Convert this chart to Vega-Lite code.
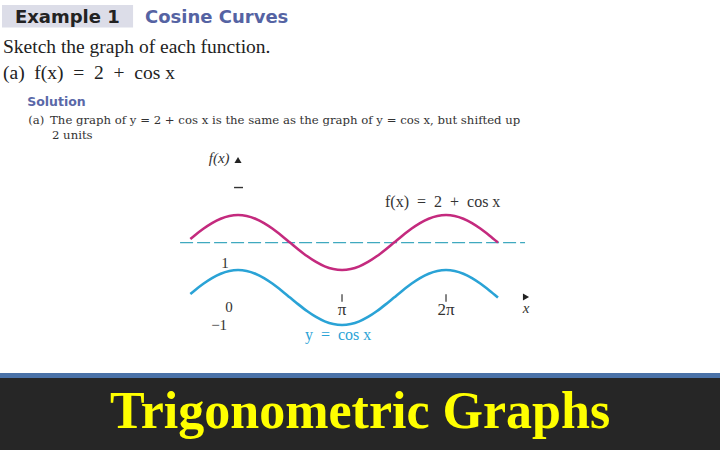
{
  "$schema": "https://vega.github.io/schema/vega-lite/v6.json",
  "width": 720,
  "height": 450,
  "autosize": {"type": "fit", "contains": "padding"},
  "padding": 0,
  "background": "white",
  "config": {"view": {"stroke": null}, "axis": {"disable": true}},
  "layer": [
    {
      "data": {"values": [{"part": "example box"}]},
      "mark": {"type": "rect", "color": "#dcdde8"},
      "encoding": {
        "x": {"datum": -7.13, "type": "quantitative", "scale": {"domain": [-7.19, 14.56], "nice": false, "zero": false}},
        "x2": {"datum": -3.17},
        "y": {"datum": 10.64, "type": "quantitative", "scale": {"domain": [-5.545, 10.82], "nice": false, "zero": false}},
        "y2": {"datum": 9.82}
      }
    },
    {
      "data": {"values": [{"part": "banner stripe"}]},
      "mark": {"type": "rect", "color": "#4a72a8"},
      "encoding": {
        "x": {"datum": -7.19, "type": "quantitative"},
        "x2": {"datum": 14.56},
        "y": {"datum": -2.745, "type": "quantitative"},
        "y2": {"datum": -2.927}
      }
    },
    {
      "data": {"values": [{"part": "banner"}]},
      "mark": {"type": "rect", "color": "#262626"},
      "encoding": {
        "x": {"datum": -7.19, "type": "quantitative"},
        "x2": {"datum": 14.56},
        "y": {"datum": -2.927, "type": "quantitative"},
        "y2": {"datum": -5.545}
      }
    },
    {
      "data": {"values": [{"x": -1.75, "y": 2}, {"x": 8.67, "y": 2}]},
      "mark": {"type": "line", "color": "#3fa9bf", "strokeWidth": 1.3, "strokeDash": [13, 4]},
      "encoding": {
        "x": {"field": "x", "type": "quantitative"},
        "y": {"field": "y", "type": "quantitative"}
      }
    },
    {
      "data": {"values": [
        {"x": -1.44, "cosx": 0.1304, "fx": 2.1304},
        {"x": -1.309, "cosx": 0.2588, "fx": 2.2588},
        {"x": -1.0472, "cosx": 0.5, "fx": 2.5},
        {"x": -0.7854, "cosx": 0.7071, "fx": 2.7071},
        {"x": -0.5236, "cosx": 0.866, "fx": 2.866},
        {"x": -0.2618, "cosx": 0.9659, "fx": 2.9659},
        {"x": 0, "cosx": 1, "fx": 3},
        {"x": 0.2618, "cosx": 0.9659, "fx": 2.9659},
        {"x": 0.5236, "cosx": 0.866, "fx": 2.866},
        {"x": 0.7854, "cosx": 0.7071, "fx": 2.7071},
        {"x": 1.0472, "cosx": 0.5, "fx": 2.5},
        {"x": 1.309, "cosx": 0.2588, "fx": 2.2588},
        {"x": 1.5708, "cosx": 0, "fx": 2},
        {"x": 1.8326, "cosx": -0.2588, "fx": 1.7412},
        {"x": 2.0944, "cosx": -0.5, "fx": 1.5},
        {"x": 2.3562, "cosx": -0.7071, "fx": 1.2929},
        {"x": 2.618, "cosx": -0.866, "fx": 1.134},
        {"x": 2.8798, "cosx": -0.9659, "fx": 1.0341},
        {"x": 3.1416, "cosx": -1, "fx": 1},
        {"x": 3.4034, "cosx": -0.9659, "fx": 1.0341},
        {"x": 3.6652, "cosx": -0.866, "fx": 1.134},
        {"x": 3.927, "cosx": -0.7071, "fx": 1.2929},
        {"x": 4.1888, "cosx": -0.5, "fx": 1.5},
        {"x": 4.4506, "cosx": -0.2588, "fx": 1.7412},
        {"x": 4.7124, "cosx": 0, "fx": 2},
        {"x": 4.9742, "cosx": 0.2588, "fx": 2.2588},
        {"x": 5.236, "cosx": 0.5, "fx": 2.5},
        {"x": 5.4978, "cosx": 0.7071, "fx": 2.7071},
        {"x": 5.7596, "cosx": 0.866, "fx": 2.866},
        {"x": 6.0214, "cosx": 0.9659, "fx": 2.9659},
        {"x": 6.2832, "cosx": 1, "fx": 3},
        {"x": 6.545, "cosx": 0.9659, "fx": 2.9659},
        {"x": 6.8068, "cosx": 0.866, "fx": 2.866},
        {"x": 7.0686, "cosx": 0.7071, "fx": 2.7071},
        {"x": 7.3304, "cosx": 0.5, "fx": 2.5},
        {"x": 7.5922, "cosx": 0.2588, "fx": 2.2588},
        {"x": 7.854, "cosx": 0, "fx": 2}
      ]},
      "transform": [{"fold": ["fx", "cosx"], "as": ["curve", "y"]}],
      "mark": {"type": "line", "strokeWidth": 2.6, "interpolate": "monotone"},
      "encoding": {
        "x": {"field": "x", "type": "quantitative"},
        "y": {"field": "y", "type": "quantitative"},
        "color": {"field": "curve", "type": "nominal", "scale": {"domain": ["fx", "cosx"], "range": ["#c42a7e", "#2aa3d6"]}, "legend": null}
      }
    },
    {
      "data": {"values": [{"x": 3.1416}, {"x": 6.2832}]},
      "mark": {"type": "rule", "color": "#333333", "strokeWidth": 1.2},
      "encoding": {
        "x": {"field": "x", "type": "quantitative"},
        "y": {"datum": -0.15, "type": "quantitative"},
        "y2": {"datum": 0.12}
      }
    },
    {
      "data": {"values": [{"y": 4}]},
      "mark": {"type": "rule", "color": "#333333", "strokeWidth": 1.4},
      "encoding": {
        "x": {"datum": -0.12, "type": "quantitative"},
        "x2": {"datum": 0.15},
        "y": {"field": "y", "type": "quantitative"}
      }
    },
    {
      "data": {"values": [{"axis": "y", "x": 0, "y": 5.0}]},
      "mark": {"type": "point", "shape": "triangle-up", "filled": true, "size": 50, "color": "#222222", "opacity": 1},
      "encoding": {
        "x": {"field": "x", "type": "quantitative"},
        "y": {"field": "y", "type": "quantitative"}
      }
    },
    {
      "data": {"values": [{"axis": "x", "x": 8.7, "y": 0.02}]},
      "mark": {"type": "point", "shape": "triangle-right", "filled": true, "size": 50, "color": "#222222", "opacity": 1},
      "encoding": {
        "x": {"field": "x", "type": "quantitative"},
        "y": {"field": "y", "type": "quantitative"}
      }
    },
    {
      "data": {"values": [
        {"label": "1", "x": -0.39, "y": 1.07},
        {"label": "0", "x": -0.27, "y": -0.53},
        {"label": "−1", "x": -0.57, "y": -1.18}
      ]},
      "mark": {"type": "text", "font": "Liberation Serif", "fontSize": 15, "color": "#333333", "align": "center", "baseline": "alphabetic"},
      "encoding": {
        "x": {"field": "x", "type": "quantitative"},
        "y": {"field": "y", "type": "quantitative"},
        "text": {"field": "label"}
      }
    },
    {
      "data": {"values": [
        {"label": "π", "x": 3.1416, "y": -0.64},
        {"label": "2π", "x": 6.2832, "y": -0.64}
      ]},
      "mark": {"type": "text", "font": "Liberation Serif", "fontSize": 17, "color": "#333333", "align": "center", "baseline": "alphabetic"},
      "encoding": {
        "x": {"field": "x", "type": "quantitative"},
        "y": {"field": "y", "type": "quantitative"},
        "text": {"field": "label"}
      }
    },
    {
      "data": {"values": [
        {"label": "x", "x": 8.7, "y": -0.56},
        {"label": "f(x)", "x": -0.57, "y": 4.89}
      ]},
      "mark": {"type": "text", "font": "Liberation Serif", "fontStyle": "italic", "fontSize": 15, "color": "#333333", "align": "center", "baseline": "alphabetic"},
      "encoding": {
        "x": {"field": "x", "type": "quantitative"},
        "y": {"field": "y", "type": "quantitative"},
        "text": {"field": "label"}
      }
    },
    {
      "data": {"values": [{"label": "f(x)\u2002=\u20022\u2002+\u2002cos x", "x": 4.44, "y": 3.29}]},
      "mark": {"type": "text", "font": "Liberation Serif", "fontSize": 16, "color": "#333333", "align": "left", "baseline": "alphabetic"},
      "encoding": {
        "x": {"field": "x", "type": "quantitative"},
        "y": {"field": "y", "type": "quantitative"},
        "text": {"field": "label"}
      }
    },
    {
      "data": {"values": [{"label": "y\u2002=\u2002cos x", "x": 2.02, "y": -1.55}]},
      "mark": {"type": "text", "font": "Liberation Serif", "fontSize": 16, "color": "#2aa3d6", "align": "left", "baseline": "alphabetic"},
      "encoding": {
        "x": {"field": "x", "type": "quantitative"},
        "y": {"field": "y", "type": "quantitative"},
        "text": {"field": "label"}
      }
    },
    {
      "data": {"values": [
        {"text": "Example 1", "x": -6.74, "y": 10.0}
      ]},
      "mark": {"type": "text", "font": "DejaVu Sans", "fontWeight": "bold", "fontSize": 18, "color": "#222222", "align": "left", "baseline": "alphabetic"},
      "encoding": {
        "x": {"field": "x", "type": "quantitative"},
        "y": {"field": "y", "type": "quantitative"},
        "text": {"field": "text"}
      }
    },
    {
      "data": {"values": [
        {"text": "Cosine Curves", "x": -2.81, "y": 10.0}
      ]},
      "mark": {"type": "text", "font": "DejaVu Sans", "fontWeight": "bold", "fontSize": 18, "color": "#5563a3", "align": "left", "baseline": "alphabetic"},
      "encoding": {
        "x": {"field": "x", "type": "quantitative"},
        "y": {"field": "y", "type": "quantitative"},
        "text": {"field": "text"}
      }
    },
    {
      "data": {"values": [
        {"text": "Sketch the graph of each function.", "x": -7.1, "y": 8.88},
        {"text": "(a)\u2002f(x)\u2002=\u20022\u2002+\u2002cos x", "x": -7.1, "y": 7.945}
      ]},
      "mark": {"type": "text", "font": "Liberation Serif", "fontSize": 19.5, "color": "#222222", "align": "left", "baseline": "alphabetic"},
      "encoding": {
        "x": {"field": "x", "type": "quantitative"},
        "y": {"field": "y", "type": "quantitative"},
        "text": {"field": "text"}
      }
    },
    {
      "data": {"values": [
        {"text": "Solution", "x": -6.37, "y": 6.96}
      ]},
      "mark": {"type": "text", "font": "DejaVu Sans", "fontWeight": "bold", "fontSize": 12.5, "color": "#5a68a8", "align": "left", "baseline": "alphabetic"},
      "encoding": {
        "x": {"field": "x", "type": "quantitative"},
        "y": {"field": "y", "type": "quantitative"},
        "text": {"field": "text"}
      }
    },
    {
      "data": {"values": [
        {"text": "(a)\u2002The graph of y = 2 + cos x is the same as the graph of y = cos x, but shifted up", "x": -6.34, "y": 6.31},
        {"text": "2 units", "x": -5.62, "y": 5.76}
      ]},
      "mark": {"type": "text", "font": "DejaVu Serif", "fontSize": 11.7, "color": "#333333", "align": "left", "baseline": "alphabetic"},
      "encoding": {
        "x": {"field": "x", "type": "quantitative"},
        "y": {"field": "y", "type": "quantitative"},
        "text": {"field": "text"}
      }
    },
    {
      "data": {"values": [
        {"text": "Trigonometric Graphs", "x": 3.686, "y": -4.745}
      ]},
      "mark": {"type": "text", "font": "Liberation Serif", "fontWeight": "bold", "fontSize": 52, "color": "#ffff00", "align": "center", "baseline": "alphabetic"},
      "encoding": {
        "x": {"field": "x", "type": "quantitative"},
        "y": {"field": "y", "type": "quantitative"},
        "text": {"field": "text"}
      }
    }
  ]
}
